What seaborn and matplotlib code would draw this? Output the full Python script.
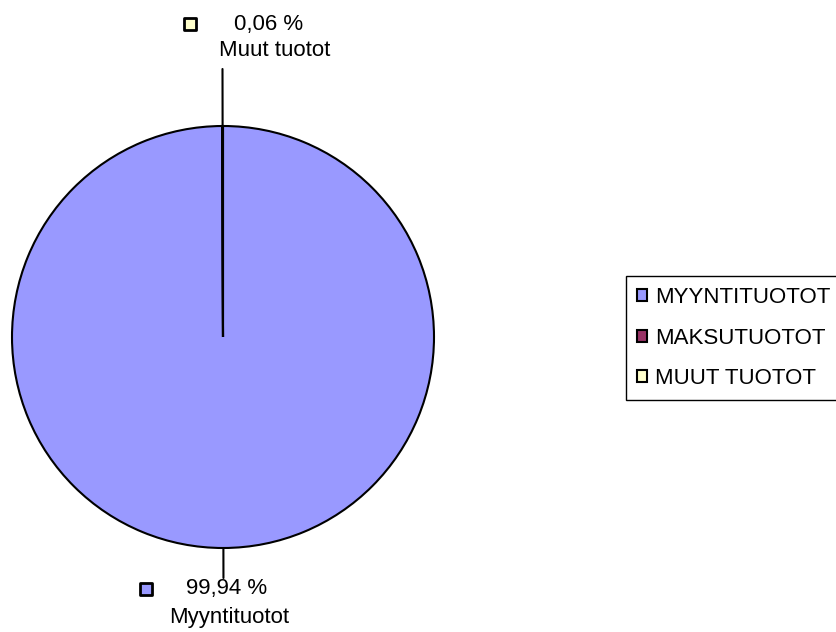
import matplotlib
matplotlib.use("Agg")
import numpy as np
import matplotlib.pyplot as plt
import seaborn as sns

# data
categories = ["MYYNTITUOTOT", "MAKSUTUOTOT", "MUUT TUOTOT"]
shares = [99.94, 0.0, 0.06]
slice_colors = ["#9999FF", "#993366", "#FFFFCC"]
# labelled slices: (index, label text, percent text)
pie_labels = [(0, "Myyntituotot", "99,94 %"), (2, "Muut tuotot", "0,06 %")]

sns.set_theme(style="white")
plt.rcParams["font.family"] = ["Liberation Sans", "DejaVu Sans"]
plt.rcParams["text.color"] = "black"

W, H = 837, 632
fig = plt.figure(figsize=(W / 100, H / 100), dpi=100)
ax = fig.add_axes([0, 0, 1, 1])
ax.set_xlim(0, W)
ax.set_ylim(0, H)

cx, cy, r = 223, 295, 211
wedges, _ = ax.pie(shares, colors=slice_colors, startangle=90, counterclock=False,
                   center=(cx, cy), radius=r, frame=True,
                   wedgeprops=dict(edgecolor="black", linewidth=1.5))
ax.set_aspect("equal")
ax.axis("off")

fs = 16
# leader lines + labels
for idx, name, pct in pie_labels:
    w = wedges[idx]
    mid = np.deg2rad((w.theta1 + w.theta2) / 2)
    up = np.sin(mid) > 0
    ext = 57 if up else 30
    x0, y0 = cx + r * np.cos(mid), cy + r * np.sin(mid)
    x1, y1 = cx + (r + ext) * np.cos(mid), cy + (r + ext) * np.sin(mid)
    ax.plot([x0, x1], [y0, y1], color="black", lw=1.5)
    if up:
        y_pct, y_name = y1 + 45, y1 + 19
        dx_pct, dx_name, dx_mk = 46, 52, -32
    else:
        y_pct, y_name = y1 - 11, y1 - 40
        dx_pct, dx_name, dx_mk = 3, 6, -77
    ax.text(x1 + dx_pct, y_pct, pct, ha="center", va="center", fontsize=fs, color="black")
    ax.text(x1 + dx_name, y_name, name, ha="center", va="center", fontsize=fs, color="black")
    ax.scatter([x1 + dx_mk], [y_pct], marker="s", s=80, color=slice_colors[idx],
               edgecolor="black", linewidth=2, zorder=5)

# legend (box runs past the right edge of the figure)
leg = ax.legend(wedges, categories, loc="upper left", mode="expand",
                bbox_to_anchor=(626 / W, 1 - 276 / H, 240 / W, 0), bbox_transform=fig.transFigure,
                frameon=True, fancybox=False, edgecolor="black", framealpha=1,
                fontsize=fs, handlelength=0.45, handleheight=0.45, handletextpad=0.35,
                labelspacing=0.88, borderpad=0.5, borderaxespad=0, labelcolor="black")
leg.get_frame().set_linewidth(1.0)

fig.savefig("out.png", dpi=100)
